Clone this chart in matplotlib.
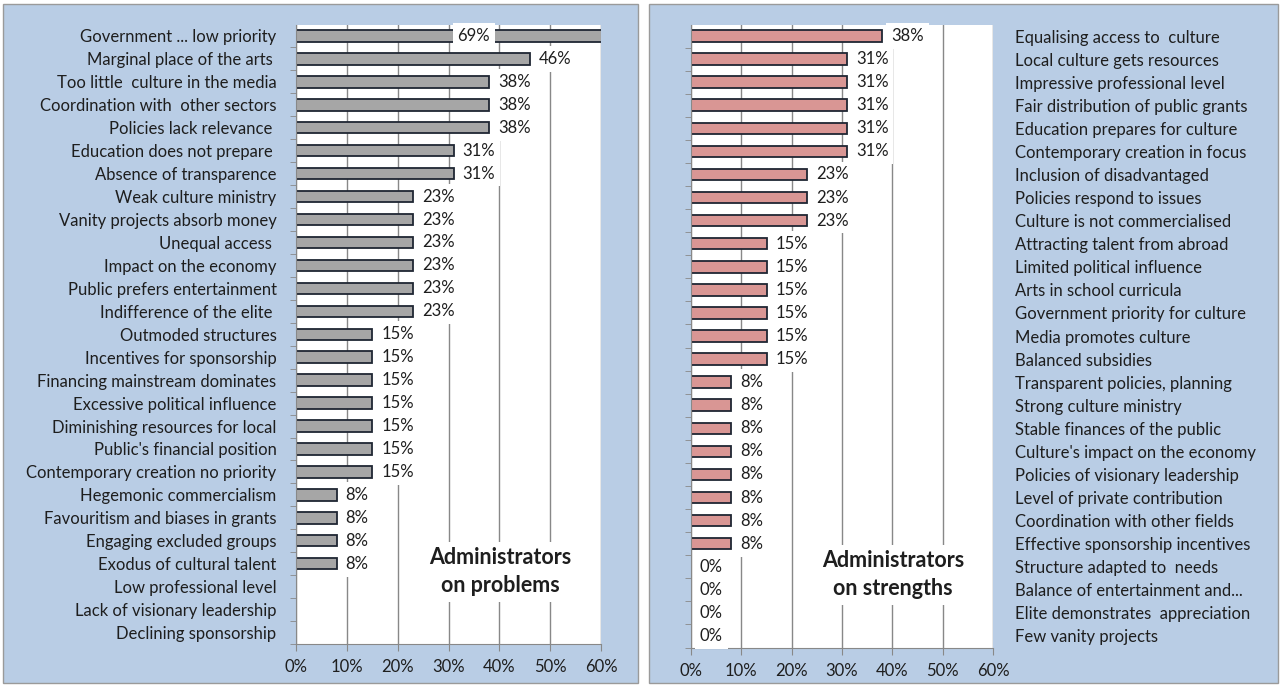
import matplotlib
matplotlib.use("Agg")
import matplotlib.pyplot as plt
from matplotlib.patches import Rectangle
from matplotlib.ticker import FixedLocator, PercentFormatter

# survey answers, share of administrators (%)
problem_labels = [
    "Government ... low priority", "Marginal place of the arts ",
    "Too little  culture in the media", "Coordination with  other sectors",
    "Policies lack relevance ", "Education does not prepare ",
    "Absence of transparence", "Weak culture ministry",
    "Vanity projects absorb money", "Unequal access ",
    "Impact on the economy", "Public prefers entertainment",
    "Indifference of the elite ", "Outmoded structures",
    "Incentives for sponsorship", "Financing mainstream dominates",
    "Excessive political influence", "Diminishing resources for local",
    "Public's financial position", "Contemporary creation no priority",
    "Hegemonic commercialism", "Favouritism and biases in grants",
    "Engaging excluded groups", "Exodus of cultural talent",
    "Low professional level", "Lack of visionary leadership",
    "Declining sponsorship",
]
problem_values = [69, 46, 38, 38, 38, 31, 31, 23, 23, 23, 23, 23, 23,
                  15, 15, 15, 15, 15, 15, 15, 8, 8, 8, 8, 0, 0, 0]

strength_labels = [
    "Equalising access to  culture", "Local culture gets resources",
    "Impressive professional level", "Fair distribution of public grants",
    "Education prepares for culture", "Contemporary creation in focus",
    "Inclusion of disadvantaged", "Policies respond to issues",
    "Culture is not commercialised", "Attracting talent from abroad",
    "Limited political influence", "Arts in school curricula",
    "Government priority for culture", "Media promotes culture",
    "Balanced subsidies", "Transparent policies, planning",
    "Strong culture ministry", "Stable finances of the public",
    "Culture's impact on the economy", "Policies of visionary leadership",
    "Level of private contribution", "Coordination with other fields",
    "Effective sponsorship incentives", "Structure adapted to  needs",
    "Balance of entertainment and...", "Elite demonstrates  appreciation",
    "Few vanity projects",
]
strength_values = [38, 31, 31, 31, 31, 31, 23, 23, 23, 15, 15, 15, 15, 15,
                   15, 8, 8, 8, 8, 8, 8, 8, 8, 0, 0, 0, 0]

xticks = [0, 10, 20, 30, 40, 50, 60]

plt.rcParams["font.family"] = ["Lato", "DejaVu Sans"]
TXT = "#1e1e1e"
BG = "#b9cde5"
GRID = "#888888"
FS = 12

W, H = 1280, 686
fig = plt.figure(figsize=(W / 100, H / 100), dpi=100)

# chart-area panels
for x0, x1 in [(3, 638), (649, 1278)]:
    fig.patches.append(Rectangle((x0 / W, 1 - 683 / H), (x1 - x0) / W, 679 / H,
                                 transform=fig.transFigure, facecolor=BG,
                                 edgecolor="#9a9a9a", lw=1, zorder=-1))


def panel(rect, labels, values, face, title, right_labels, show_zero):
    ax = fig.add_axes(rect)
    n = len(labels)
    y = list(range(n))
    ax.barh(y, values, height=0.5, color=face, edgecolor="#1f2633", lw=1.3)
    ax.set_xlim(0, 60)
    ax.set_ylim(n - 0.5, -0.5)
    ax.set_axisbelow(True)
    ax.grid(axis="x", color=GRID, lw=1)
    ax.set_xticks(xticks)
    ax.xaxis.set_major_formatter(PercentFormatter(decimals=0))
    for s in ("top", "right"):
        ax.spines[s].set_visible(False)
    for s in ("left", "bottom"):
        ax.spines[s].set_color(GRID)
    ax.set_yticks(y)
    ax.set_yticklabels(labels)
    ax.yaxis.set_minor_locator(FixedLocator([i + 0.5 for i in range(n)]))
    ax.tick_params(axis="y", which="major", length=0, labelsize=FS,
                   labelcolor=TXT, pad=14 if not right_labels else 16)
    ax.tick_params(axis="y", which="minor", length=4, color=GRID)
    ax.tick_params(axis="x", length=5, color=GRID, labelsize=FS,
                   labelcolor=TXT, pad=6)
    if right_labels:
        ax.tick_params(axis="y", which="major", labelleft=False, labelright=True)
    for yi, v in zip(y, values):
        if v == 0 and not show_zero:
            continue
        box = dict(facecolor="white", edgecolor="none", pad=3.5)
        if v > 60:
            ax.text(35, yi, f"{v}%", ha="center", va="center", fontsize=FS,
                    color=TXT, bbox=box, zorder=4)
        else:
            ax.annotate(f"{v}%", (v, yi), xytext=(9, 0),
                        textcoords="offset pixels", ha="left", va="center",
                        fontsize=FS, color=TXT, bbox=box, zorder=4)
    ax.text(0.669, 0.117, title, transform=ax.transAxes, ha="center",
            va="center", fontsize=15.5, fontweight="bold", color=TXT,
            linespacing=1.4, zorder=4,
            bbox=dict(facecolor="white", edgecolor="none", pad=4))
    return ax


panel([296 / W, 42 / H, 305 / W, 619.5 / H], problem_labels, problem_values,
      "#a6a6a6", "Administrators\non problems", False, False)
panel([691 / W, 38.5 / H, 302 / W, 623 / H], strength_labels, strength_values,
      "#d99694", "Administrators\non strengths", True, True)

fig.savefig("out.png", dpi=100, facecolor="white")
